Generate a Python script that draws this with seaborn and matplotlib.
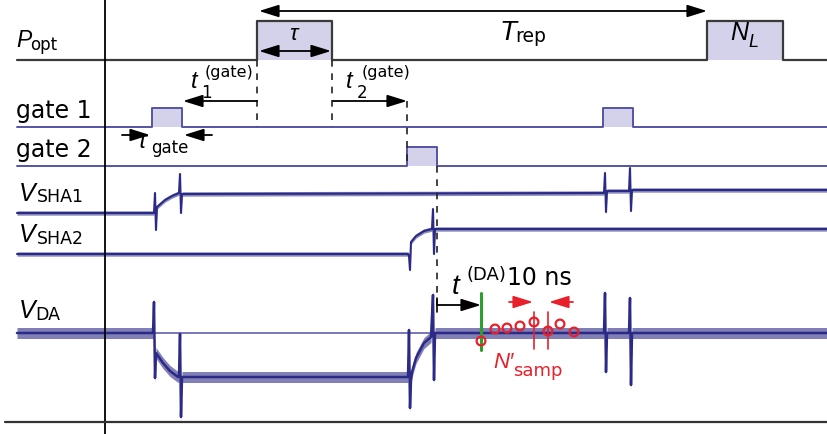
import numpy as np
import pandas as pd
import matplotlib
matplotlib.use("Agg")
import matplotlib.pyplot as plt
import seaborn as sns

sns.set_theme(style="white")
plt.rcParams['font.family'] = ['DejaVu Sans']

# ---- data (time axis and levels in diagram units) ----
x_start, x_end = 17, 827

popt_base, popt_top = 60, 21
popt_pulses = [(257, 332), (707, 783)]

gate1_base, gate1_top = 127, 108
gate1_pulses = [(152, 182), (603, 633)]

gate2_base, gate2_top = 166, 147
gate2_pulses = [(407, 437)]

sha1_t = [17, 154, 155, 156, 157, 165, 172, 179, 180, 181, 182, 604, 605, 606, 607, 629, 630, 631, 632, 827]
sha1_v = [213, 213, 193, 230, 207, 200, 196, 193, 174, 213, 194, 193, 173, 212, 191, 191, 168, 211, 190, 190]

sha2_t = [17, 408, 409, 410, 411, 416, 424, 432, 433, 434, 435, 827]
sha2_v = [254, 254, 256, 270, 242, 236, 231, 229, 209, 254, 229, 229]

da_t = [17, 153, 154, 155, 156, 163, 170, 178, 179, 180, 181, 182, 408, 409, 410, 411, 412, 416, 424, 431, 433, 434, 435,
        604, 605, 606, 607, 629, 630, 631, 632, 827]
da_v = [333, 333, 302, 378, 353, 363, 371, 377, 376, 334, 417, 377, 377, 330, 408, 380, 372, 358, 343, 337, 295, 380, 333,
        333, 293, 372, 333, 333, 298, 385, 333, 333]
da_ref_level = 333
da_ref_start = 155

samp_t = [481, 495, 507, 520, 534, 548, 560, 574]
samp_v = [341, 329, 328, 326, 322, 331, 324, 332]
window_t = [534, 548]
t_da_start, t_da_end = 437, 481

# ---- colours ----
navy = '#2b2a86'
gate_col = '#5553a6'
fill_col = '#d3d2ea'
red = '#e8202a'
green = '#2ca02c'

fig = plt.figure(figsize=(8.27, 4.34), dpi=100)
ax = fig.add_axes([0, 0, 1, 1])
ax.set_xlim(0, 827)
ax.set_ylim(434, 0)
ax.axis('off')


def step_trace(pulses, base, top):
    xs, ys = [x_start], [base]
    for a, b in pulses:
        xs += [a, a, b, b]
        ys += [base, top, top, base]
    xs.append(x_end)
    ys.append(base)
    return xs, ys


def draw_pulses(pulses, base, top, col, lw):
    for a, b in pulses:
        ax.fill_between([a, b], [base, base], [top, top], color=fill_col, lw=0, zorder=1)
    xs, ys = step_trace(pulses, base, top)
    sns.lineplot(x=xs, y=ys, sort=False, estimator=None, ax=ax, color=col, lw=lw, zorder=3)


draw_pulses(popt_pulses, popt_base, popt_top, '#3a3a3a', 1.6)
draw_pulses(gate1_pulses, gate1_base, gate1_top, gate_col, 1.4)
draw_pulses(gate2_pulses, gate2_base, gate2_top, gate_col, 1.4)


def trace(t, v, band, lw, alpha):
    t = np.asarray(t, float)
    v = np.asarray(v, float)
    ax.fill_between(t, v - band, v + band, color=navy, alpha=alpha, lw=0, zorder=2)
    sns.lineplot(x=t, y=v, sort=False, estimator=None, ax=ax, color=navy, lw=lw, zorder=3)


trace(sha1_t, sha1_v, 2.2, 1.5, 0.55)
trace(sha2_t, sha2_v, 2.2, 1.5, 0.55)
trace(da_t, da_v, 5.5, 1.8, 0.6)
ax.plot([da_ref_start, x_end], [da_ref_level, da_ref_level], color=gate_col, lw=1.1, zorder=2)

# frame lines
ax.plot([105, 105], [0, 434], color='black', lw=1.3, zorder=4)
ax.plot([5, 827], [422, 422], color='#333333', lw=1.6, zorder=4)

# dashed guides
dash = dict(color='#222222', lw=1.2, ls=(0, (4, 4)), zorder=4)
ax.plot([257, 257], [popt_base, gate1_base], **dash)
ax.plot([332, 332], [popt_base, gate1_base], **dash)
ax.plot([407, 407], [101, gate2_base], **dash)
ax.plot([437, 437], [gate2_base, 305], **dash)


def arrow(p0, p1, style='-|>', col='black', lw=1.3):
    ax.annotate('', xy=p1, xytext=p0,
                arrowprops=dict(arrowstyle=style + ',head_length=0.8,head_width=0.25',
                                color=col, lw=lw, mutation_scale=15,
                                shrinkA=0, shrinkB=0), zorder=6)


arrow((259, 11), (707, 11), '<|-|>')
arrow((259, 51), (331, 51), '<|-|>')
arrow((257, 101), (183, 101))
arrow((333, 101), (407, 101))
arrow((122, 135), (150, 135))
arrow((212, 135), (184, 135))
arrow((t_da_start, 305), (t_da_end, 305))
ax.plot([t_da_start, t_da_start], [298, 312], color='black', lw=1.2, zorder=5)
arrow((509, 302), (533, 302), col=red, lw=1.3)
arrow((573, 302), (549, 302), col=red, lw=1.3)

ax.plot([t_da_end, t_da_end], [293, 350], color=green, lw=2.2, zorder=5)
for wt in window_t:
    ax.plot([wt, wt], [312, 349], color=red, lw=1.2, zorder=5)
sns.scatterplot(x=samp_t, y=samp_v, ax=ax, marker='o', s=40, facecolors='none',
                edgecolor=red, linewidth=1.6, zorder=7)


def txt(x, y, s, size, col='black', ha='left', it=False):
    ax.text(x, y, s, fontsize=size, color=col, ha=ha, va='baseline', zorder=8,
            fontstyle='italic' if it else 'normal',
            family=['Liberation Sans', 'DejaVu Sans'] if it else ['DejaVu Sans'])


# left labels
txt(16, 47, 'P', 16.5, it=True); txt(30, 50, 'opt', 12)
txt(16, 118, 'gate 1', 17)
txt(16, 157, 'gate 2', 17)
txt(19, 201, 'V', 18, it=True); txt(37, 202.5, 'SHA1', 12.5)
txt(19, 242, 'V', 18, it=True); txt(37, 243.5, 'SHA2', 12.5)
txt(19, 318, 'V', 18, it=True); txt(35, 320, 'DA', 12.5)

# annotations
txt(293, 40, 'τ', 16, ha='center', it=True)
txt(500, 40, 'T', 20, it=True); txt(515, 42.5, 'rep', 13.5)
txt(730, 40, 'N', 18, it=True); txt(748, 47, 'L', 13, it=True)
txt(191, 88, 't', 17, it=True); txt(201.5, 98, '1', 12); txt(205, 77.5, '(gate)', 11.5)
txt(346, 88, 't', 17, it=True); txt(356.5, 98, '2', 12); txt(362, 77.5, '(gate)', 11.5)
txt(137, 148, 'τ', 17, it=True); txt(151, 153, 'gate', 12)
txt(452, 294, 't', 20, it=True); txt(467, 280, '(DA)', 13)
txt(507, 285, '10 ns', 17)
txt(493, 368, 'N′', 16, col=red, it=True)
txt(513, 376, 'samp', 13, col=red)

fig.savefig('out.png', dpi=100)
